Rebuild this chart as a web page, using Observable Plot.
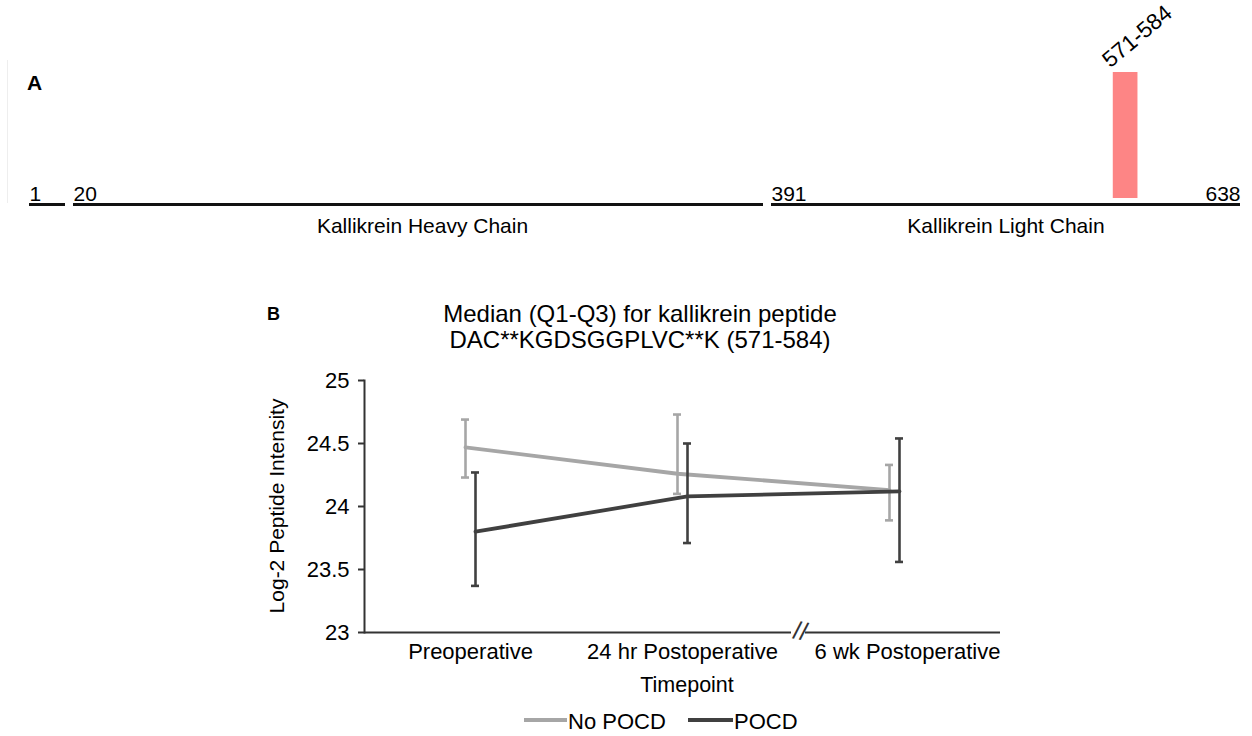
<!DOCTYPE html>
<html><head><meta charset="utf-8">
<script src="https://cdn.jsdelivr.net/npm/d3@7"></script>
<script src="https://cdn.jsdelivr.net/npm/@observablehq/plot@0.6"></script>
<style>
html,body{margin:0;padding:0;background:#fff;width:1252px;height:736px;overflow:hidden;font-family:"Liberation Sans",Arial,sans-serif;color:#000}
#root{position:relative;width:1252px;height:736px;overflow:hidden}
.abs{position:absolute;white-space:pre;line-height:normal}
svg{overflow:visible}
</style></head><body>
<div id="root"></div>
<script>
// ---------- Panel A data (kallikrein sequence map) ----------
const segStarts = [1, 20, 391];
const segEnds = [20, 391, 638];
const segStartLabels = ["1", "20", "391"];
const proteinEnd = 638;
const chainNames = ["Kallikrein Heavy Chain", "Kallikrein Light Chain"];
const chainStarts = [20, 391];
const chainEnds = [391, 638];
const peptideStarts = [571];
const peptideEnds = [584];
const peptideLabels = ["571-584"];

// ---------- Panel B data (median, Q1, Q3) ----------
const timepoints = ["Preoperative", "24 hr Postoperative", "6 wk Postoperative"];
const groups = ["No POCD", "POCD"];
const noPocdMedian = [24.47, 24.26, 24.13];
const noPocdQ1 = [24.23, 24.10, 23.89];
const noPocdQ3 = [24.69, 24.73, 24.33];
const pocdMedian = [23.80, 24.08, 24.12];
const pocdQ1 = [23.37, 23.71, 23.56];
const pocdQ3 = [24.27, 24.50, 24.54];
const yTicks = [23, 23.5, 24, 24.5, 25];

const titleLines = ["Median (Q1-Q3) for kallikrein peptide", "DAC**KGDSGGPLVC**K (571-584)"];
const yLabel = "Log-2 Peptide Intensity";
const xLabel = "Timepoint";

const font = "'Liberation Sans', Arial, sans-serif";
const groupColor = {"No POCD": "#a6a6a6", "POCD": "#404040"};
const groupOffset = {"No POCD": -5, "POCD": 5};

const root = document.getElementById("root");
function addText(txt, left, top, size, opts = {}, parent = root) {
  const d = document.createElement("div");
  d.className = "abs";
  d.textContent = txt;
  d.style.left = left + "px";
  d.style.top = top + "px";
  d.style.fontSize = size + "px";
  if (opts.bold) d.style.fontWeight = "bold";
  if (opts.center) d.style.transform = "translateX(-50%)";
  if (opts.align) d.style.textAlign = opts.align;
  parent.appendChild(d);
  return d;
}

// ---------- Panel A ----------
const segs = segStarts.map((s, i) => ({start: s, end: segEnds[i], label: segStartLabels[i]}));
const chains = chainNames.map((n, i) => ({name: n, start: chainStarts[i], end: chainEnds[i]}));
const peps = peptideLabels.map((l, i) => ({label: l, start: peptideStarts[i], end: peptideEnds[i]}));

const plotA = Plot.plot({
  width: 1252, height: 245, margin: 0,
  style: {fontFamily: font, background: "transparent", overflow: "visible"},
  x: {type: "linear", domain: [1, 20, 391, 638], range: [29, 73, 771, 1240], axis: null},
  y: {type: "linear", domain: [0, 1], range: [204, 72], axis: null},
  marks: [
    Plot.rect(peps, {x1: "start", x2: "end", y1: 0, y2: 1, fill: "#fd8585", insetBottom: 6}),
    Plot.ruleY(segs.slice(0, 2), {y: 0, x1: "start", x2: "end", stroke: "#111", strokeWidth: 3, insetRight: 8}),
    Plot.ruleY(segs.slice(2), {y: 0, x1: "start", x2: "end", stroke: "#111", strokeWidth: 3}),
    Plot.text(segs, {x: "start", y: 0, text: "label", textAnchor: "start", lineAnchor: "bottom", dy: -4, fontSize: 21, fill: "#000"}),
    Plot.text([proteinEnd], {x: d => d, y: 0, text: d => String(d), textAnchor: "end", lineAnchor: "bottom", dy: -4, fontSize: 21, fill: "#000"}),
    Plot.text(chains, {x: d => (d.start + d.end) / 2, y: 0, text: "name", lineAnchor: "bottom", dy: 28, fontSize: 21, fill: "#000"}),
    Plot.text(peps, {x: "start", y: 1, text: "label", rotate: -40, textAnchor: "start", lineAnchor: "bottom", dx: -3, dy: -4, fontSize: 22.5, fill: "#000"})
  ]
});
const divA = document.createElement("div");
divA.style.cssText = "position:absolute;left:0;top:0;";
divA.appendChild(plotA);
root.appendChild(divA);

// faint edge line and panel letter
const edge = document.createElement("div");
edge.style.cssText = "position:absolute;left:7px;top:60px;width:1px;height:143px;background:#eeeeee;";
root.appendChild(edge);
addText("A", 27, 71, 21, {bold: true});

// ---------- Panel B ----------
const rows = [];
groups.forEach(g => {
  const med = g === "POCD" ? pocdMedian : noPocdMedian;
  const q1 = g === "POCD" ? pocdQ1 : noPocdQ1;
  const q3 = g === "POCD" ? pocdQ3 : noPocdQ3;
  timepoints.forEach((t, i) => rows.push({group: g, time: t, median: med[i], q1: q1[i], q3: q3[i]}));
});

const seriesMarks = groups.flatMap(g => {
  const data = rows.filter(r => r.group === g);
  const c = groupColor[g], off = groupOffset[g];
  return [
    Plot.line(data, {x: "time", y: "median", stroke: c, strokeWidth: 3.8, dx: off}),
    Plot.ruleX(data, {x: "time", y1: "q1", y2: "q3", stroke: c, strokeWidth: 2.6, dx: off}),
    Plot.tickY(data, {x: "time", y: "q1", stroke: c, strokeWidth: 2.6, dx: off, insetLeft: 102, insetRight: 102}),
    Plot.tickY(data, {x: "time", y: "q3", stroke: c, strokeWidth: 2.6, dx: off, insetLeft: 102, insetRight: 102})
  ];
});

const plotB = Plot.plot({
  width: 1252, height: 446,
  marginTop: 90, marginBottom: 104, marginLeft: 364, marginRight: 252,
  style: {fontFamily: font, fontSize: "22px", background: "transparent", color: "#000", overflow: "visible"},
  x: {type: "band", domain: timepoints, padding: 0, axis: null},
  y: {type: "linear", domain: [23, 25], axis: null},
  marks: [
    Plot.frame({anchor: "left", stroke: "#333", strokeWidth: 2}),
    Plot.axisY({ticks: yTicks, tickSize: 6, tickPadding: 9, tickFormat: d => String(d), fontSize: 22, stroke: "#333", strokeWidth: 2, label: null}),
    Plot.ruleY([{a: timepoints[0], b: timepoints[1]}], {y: 23, x1: "a", x2: "b", stroke: "#333", strokeWidth: 2, insetRight: -3}),
    Plot.ruleY([{a: timepoints[2], b: timepoints[2]}], {y: 23, x1: "a", x2: "b", stroke: "#333", strokeWidth: 2, insetLeft: 17}),
    Plot.text([timepoints[2]], {x: d => d, y: 23, text: () => "//", dx: -94, dy: -1, fontSize: 25, fill: "#333", rotate: 12}),
    Plot.axisX({ticks: timepoints.slice(0, 2), tickSize: 0, tickPadding: 11, fontSize: 22, label: null}),
    Plot.axisX({ticks: timepoints.slice(2), tickSize: 0, tickPadding: 11, fontSize: 22, label: null, dx: 13}),
    ...seriesMarks
  ]
});
const divB = document.createElement("div");
divB.style.cssText = "position:absolute;left:0;top:290px;";
divB.appendChild(plotB);
root.appendChild(divB);

// titles, labels and legend for panel B
addText("B", 267, 304, 18, {bold: true});
const t = addText(titleLines.join("\n"), 640, 301, 24, {center: true, align: "center"});
t.style.lineHeight = "26px";
const yl = document.createElement("div");
yl.className = "abs";
yl.textContent = yLabel;
yl.style.cssText += "font-size:21px;left:277px;top:506px;transform:translate(-50%,-50%) rotate(-90deg);";
root.appendChild(yl);
addText(xLabel, 687, 673, 21.5, {center: true});

// legend
const legendItems = [{g: "No POCD", x: 524, w: 43}, {g: "POCD", x: 688, w: 45}];
legendItems.forEach(it => {
  const ln = document.createElement("div");
  ln.style.cssText = `position:absolute;left:${it.x}px;top:718px;width:${it.w}px;height:3.5px;background:${groupColor[it.g]};`;
  root.appendChild(ln);
  addText(it.g, it.x + it.w + 1, 709, 22);
});
</script>
</body></html>
